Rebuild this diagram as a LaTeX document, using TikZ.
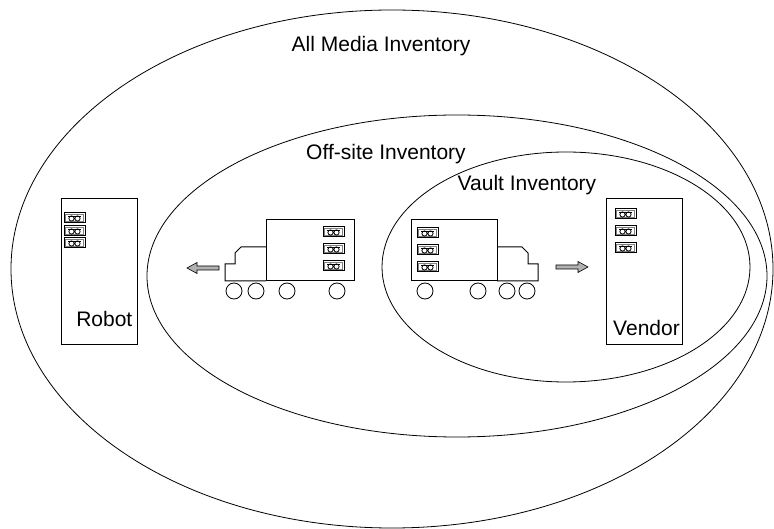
\documentclass[tikz,border=0pt]{standalone}
\usepackage{fontspec}
\setmainfont{Liberation Sans}
\usepackage{tikz}

\begin{document}
\begin{tikzpicture}[x=1pt,y=-1pt,
    ring/.style={line width=0.8pt},
    label/.style={font=\fontsize{21}{25}\selectfont, inner sep=0pt},
    site/.style={draw, line width=1pt, minimum width=76pt, minimum height=146pt, inner sep=0pt},
    movearrow/.style={draw, line width=0.6pt, fill=gray!60}]

                \useasboundingbox (0,0) rectangle (774,529);

                % the three inventories
                \draw[ring] (392,269) ellipse [x radius=381, y radius=259];
                \draw[ring] (457,276) ellipse [x radius=310, y radius=161];
                \draw[ring] (566,267) ellipse [x radius=184, y radius=115];
                \node[label] (allmedia) at (381,46) {All Media Inventory};
                \node[label] (offsite) at (386,154) {Off-site Inventory};
                \node[label] (vault) at (527,185) {Vault Inventory};

                % robot and vendor
                \node[site] (robot) at (99,271.5) {};
                \node[label, anchor=south east] (robotname) at ([xshift=-5pt,yshift=18pt]robot.south east) {Robot};
                \node[site] (vendor) at (644.5,272) {};
                \node[label, anchor=south east] (vendorname) at ([xshift=-3pt,yshift=10pt]vendor.south east) {Vendor};

                % truck leaving the vault
                \draw[line width=1pt] (266,220) rectangle (354,281);
                \draw[line width=1pt] (266,247) -- (241,247) -- (235,253) -- (235,264) -- (225,264) -- (225,281) -- (266,281);
                \foreach \wx in {234,256,287,337} \draw[line width=0.8pt] (\wx,291) circle (8);
                \draw[movearrow] (219,266) -- (197,266) -- (197,262.5) -- (187,268) -- (197,273.5) -- (197,270) -- (219,270) -- cycle;

                % truck going to the vendor
                \draw[line width=1pt] (411,220) rectangle (497,281);
                \draw[line width=1pt] (497,247) -- (522,247) -- (528,253) -- (528,264) -- (538,264) -- (538,281) -- (497,281);
                \foreach \wx in {425,478,507,527} \draw[line width=0.8pt] (\wx,291) circle (8);
                \draw[movearrow] (556,265) -- (578,265) -- (578,261.5) -- (588,267) -- (578,272.5) -- (578,269) -- (556,269) -- cycle;

                % tapes
                \foreach \tx/\ty in {64/213, 64/226, 64/238, 615/209, 615/226, 615/243, 323/227, 323/244, 323/261, 417/228, 417/245, 417/262} {
                    \draw[line width=1pt] (\tx,\ty) rectangle ++(21,10);
                    \draw[line width=0.4pt, gray] (\tx+1.5,\ty+1.5) rectangle ++(18,7);
                    \draw[line width=0.8pt] (\tx+7.5,\ty+5.5) circle (2.6) (\tx+13.5,\ty+5.5) circle (2.6);
                    \draw[line width=0.8pt] (\tx+4,\ty+3) -- (\tx+17,\ty+3);
                }
            \end{tikzpicture}
\end{document}
